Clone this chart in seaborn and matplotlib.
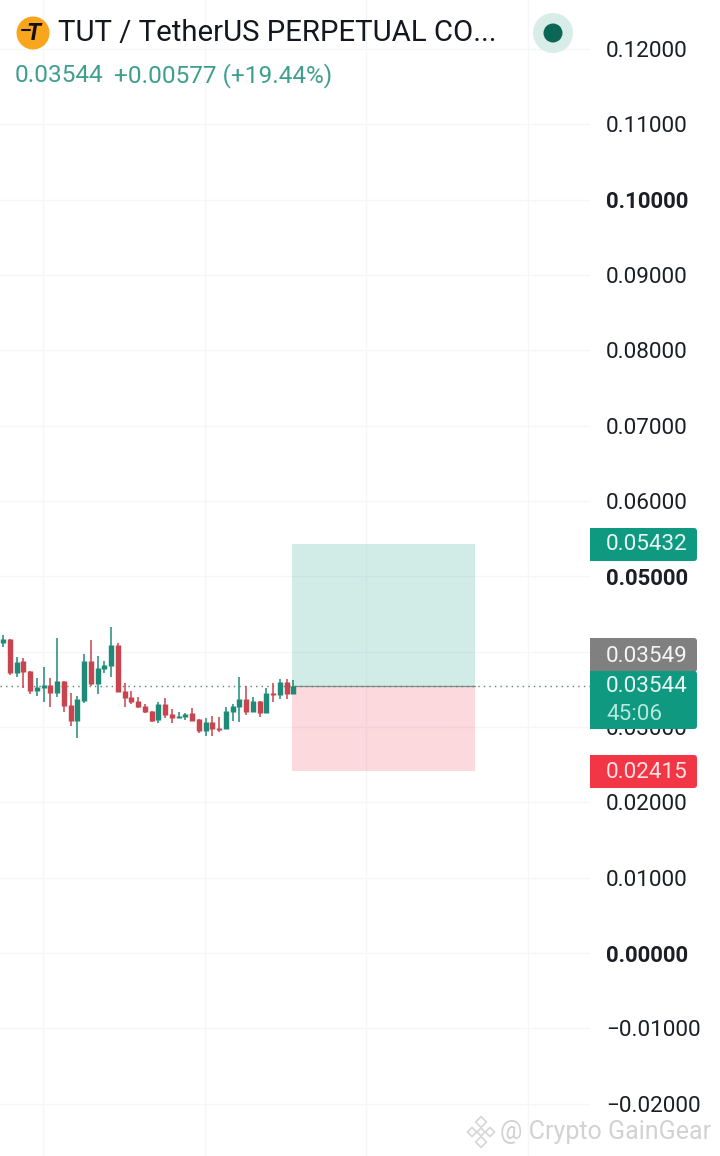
import matplotlib
matplotlib.use("Agg")
import matplotlib.pyplot as plt
import seaborn as sns
import numpy as np
import pandas as pd
from matplotlib.patches import Circle, FancyBboxPatch, Rectangle

# prices, one entry per candle
body_top = [0.04164, 0.04164, 0.03867, 0.03876, 0.03740, 0.03527, 0.03554, 0.03554, 0.03607, 0.03607,
            0.03288, 0.03368, 0.03872, 0.03872, 0.03779, 0.03819, 0.04085, 0.04085, 0.03474, 0.03394,
            0.03341, 0.03279, 0.03213, 0.03302, 0.03302, 0.03173, 0.03150, 0.03177, 0.03182, 0.03102,
            0.03063, 0.03063, 0.02983, 0.03213, 0.03275, 0.03368, 0.03368, 0.03341, 0.03341, 0.03448,
            0.03456, 0.03594, 0.03594, 0.03544]
body_bot = [0.04111, 0.03713, 0.03713, 0.03730, 0.03478, 0.03474, 0.03518, 0.03452, 0.03448, 0.03279,
            0.03076, 0.03080, 0.03341, 0.03567, 0.03571, 0.03766, 0.03810, 0.03465, 0.03385, 0.03332,
            0.03266, 0.03199, 0.03084, 0.03093, 0.03159, 0.03124, 0.03124, 0.03137, 0.03076, 0.02947,
            0.02951, 0.02970, 0.02960, 0.02970, 0.03199, 0.03262, 0.03195, 0.03199, 0.03182, 0.03182,
            0.03429, 0.03425, 0.03434, 0.03434]
wick_high = [0.04221, 0.04164, 0.03933, 0.03920, 0.03740, 0.03655, 0.03793, 0.03655, 0.04182, 0.03607,
             0.03448, 0.03412, 0.03965, 0.04151, 0.03947, 0.03876, 0.04324, 0.04111, 0.03580, 0.03478,
             0.03394, 0.03302, 0.03213, 0.03336, 0.03381, 0.03235, 0.03199, 0.03182, 0.03248, 0.03102,
             0.03124, 0.03146, 0.03137, 0.03270, 0.03302, 0.03660, 0.03544, 0.03402, 0.03341, 0.03514,
             0.03580, 0.03633, 0.03633, 0.03624]
wick_low = [0.04058, 0.03690, 0.03660, 0.03514, 0.03438, 0.03412, 0.03336, 0.03270, 0.03394, 0.03203,
            0.03013, 0.02850, 0.03315, 0.03544, 0.03438, 0.03713, 0.03660, 0.03465, 0.03270, 0.03305,
            0.03256, 0.03182, 0.03067, 0.03049, 0.03116, 0.03057, 0.03116, 0.03093, 0.03076, 0.02925,
            0.02885, 0.02881, 0.02938, 0.02970, 0.03084, 0.03071, 0.03159, 0.03195, 0.03129, 0.03182,
            0.03328, 0.03372, 0.03372, 0.03434]
is_up = [1, 0, 1, 0, 0, 1, 1, 0, 1, 0, 0, 1, 1, 0, 1, 1, 1, 0, 0, 0, 0, 0,
         0, 1, 0, 0, 1, 1, 0, 0, 1, 0, 0, 1, 1, 1, 0, 1, 0, 1, 0, 1, 0, 1]

y_ticks = [0.12, 0.11, 0.10, 0.09, 0.08, 0.07, 0.06, 0.05, 0.04, 0.03, 0.02, 0.01, 0.00, -0.01, -0.02]
y_labels = ["0.12000", "0.11000", "0.10000", "0.09000", "0.08000", "0.07000", "0.06000", "0.05000",
            "0.04000", "0.03000", "0.02000", "0.01000", "0.00000", "\u22120.01000", "\u22120.02000"]
bold_labels = ["0.10000", "0.05000", "0.00000"]
x_grid = [5.93, 29.93, 53.8, 77.8]

last_price = 0.03544
target_price = 0.05432
stop_price = 0.02415
box_left, box_right = 42.8, 69.93

GREEN = "#0f9981"
RED = "#f23645"
UP = "#1f8a78"
DOWN = "#c8444f"
TICK = "#1b1e26"
GRID = "#f5f6f8"


def main():
    sns.set_theme(style="white")
    plt.rcParams["font.family"] = ["Roboto", "DejaVu Sans"]

    fig = plt.figure(figsize=(7.2, 11.56), dpi=100, facecolor="white")
    ax = fig.add_axes([0, 0, 590 / 720, 1])

    idx = np.arange(len(is_up))
    kind = np.where(np.array(is_up) == 1, "up", "down")
    wicks = pd.DataFrame({
        "candle": np.r_[idx, idx],
        "price": np.r_[wick_low, wick_high],
        "kind": np.r_[kind, kind],
    })
    bodies = pd.DataFrame({
        "candle": np.r_[idx, idx],
        "price": np.r_[body_bot, body_top],
        "kind": np.r_[kind, kind],
    })
    palette = {"up": UP, "down": DOWN}

    for x in x_grid:
        ax.axvline(x, color=GRID, lw=0.9, zorder=0)
    for y in y_ticks:
        ax.axhline(y, color=GRID, lw=0.9, zorder=0)

    # position box
    ax.fill_between([box_left, box_right], last_price, target_price, color=GREEN, alpha=0.19, lw=0, zorder=1)
    ax.fill_between([box_left, box_right], stop_price, last_price, color=RED, alpha=0.19, lw=0, zorder=1)
    ax.plot([box_left, box_right], [last_price, last_price], color="#7f8f8c", lw=0.9, zorder=2)
    ax.axhline(last_price, color="#5f7f78", lw=1, ls=(0, (1, 3)), zorder=2)

    sns.lineplot(data=wicks, x="candle", y="price", hue="kind", units="candle", estimator=None,
                 palette=palette, legend=False, lw=1.1, solid_capstyle="butt", ax=ax, zorder=3)
    sns.lineplot(data=bodies, x="candle", y="price", hue="kind", units="candle", estimator=None,
                 palette=palette, legend=False, lw=3.9, solid_capstyle="butt", ax=ax, zorder=4)

    ax.set_xlim(-3 / 6.75, 587 / 6.75)
    ax.set_ylim(-203 / 7533, 953 / 7533)
    ax.set_xlabel("")
    ax.set_ylabel("")
    ax.set_xticks([])
    ax.yaxis.tick_right()
    ax.set_yticks(y_ticks)
    ax.set_yticklabels(y_labels)
    ax.tick_params(axis="y", length=0, pad=11.5, labelsize=16.2, labelcolor=TICK)
    for lab in ax.get_yticklabels():
        if lab.get_text() in bold_labels:
            lab.set_fontweight("bold")
            lab.set_fontsize(16)
    sns.despine(ax=ax, left=True, bottom=True, right=True, top=True)

    # header, price tags and watermark in pixel coordinates
    top = fig.add_axes([0, 0, 1, 1], facecolor="none")
    top.set_xlim(0, 720)
    top.set_ylim(1156, 0)
    top.axis("off")

    top.add_patch(Circle((33, 33), 16.5, color="#f9a61c", lw=0))
    top.text(33.5, 34, "T", fontsize=17, fontweight="bold", style="italic", color="#111111",
             ha="center", va="center")
    top.plot([22, 30], [30, 30], color="#111111", lw=1.5)
    top.text(58, 33, "TUT / TetherUS PERPETUAL CO...", fontsize=21.2, color="#14171f", va="center")
    top.text(15, 76, "0.03544", fontsize=17.6, color="#3f9f8f", va="center")
    top.text(114, 76, "+0.00577 (+19.44%)", fontsize=17.6, color="#3f9f8f", va="center")
    top.add_patch(Circle((553, 33), 20, color="#d8ece8", lw=0))
    top.add_patch(Circle((553, 33), 9.5, color="#0b6655", lw=0))

    tags = [
        (528, 561, GREEN),
        (638, 672, "#808080"),
        (671, 729, GREEN),
        (755, 788, RED),
    ]
    for y0, y1, col in tags:
        top.add_patch(FancyBboxPatch((594, y0 + 3), 100, y1 - y0 - 6, boxstyle="round,pad=3",
                                     fc=col, ec="none", zorder=5))
        top.add_patch(Rectangle((590, y0), 10, y1 - y0, fc=col, ec="none", zorder=5))
    for y, s, col in [(545, "0.05432", "#e9f7f3"), (656, "0.03549", "#f5f5f5"), (687, "0.03544", "#e9f7f3"),
                      (714, "45:06", "#b5e8dc"), (772, "0.02415", "#fde3e5")]:
        top.text(606, y, s, fontsize=16.2, color=col, va="center", zorder=6)

    top.text(500, 1132, "@ Crypto GainGear", fontsize=18, color="#d2d2d2", va="center", zorder=6)
    top.scatter([481, 481, 472, 490, 481], [1122, 1142, 1132, 1132, 1132], marker="D",
                s=[30, 30, 22, 22, 16], facecolor="none", edgecolor="#d6d6d6", linewidth=1.2, zorder=6)

    fig.savefig("out.png", dpi=100)


if __name__ == "__main__":
    main()
